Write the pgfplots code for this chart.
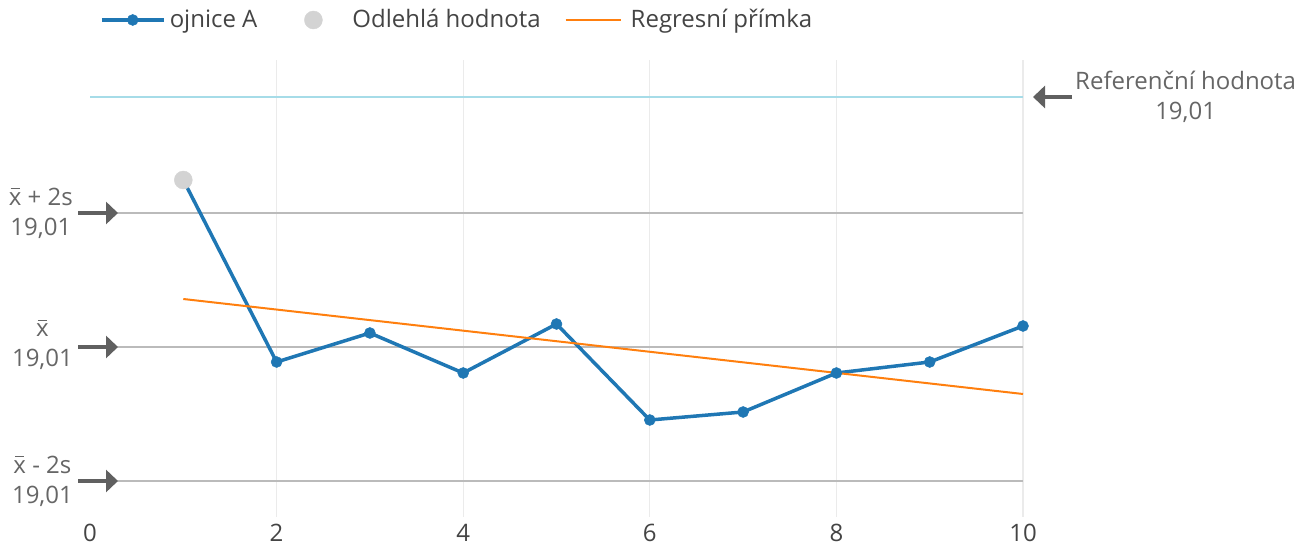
\documentclass[border=0pt]{standalone}
\usepackage{pgfplots}
\pgfplotsset{compat=1.18}
\usetikzlibrary{arrows.meta}
\usepackage{fontspec}
\setmainfont{Open Sans}
\definecolor{cblue}{HTML}{1F77B4}
\definecolor{corange}{HTML}{FF7F0E}
\definecolor{outgray}{HTML}{D3D3D3}
\definecolor{limgray}{HTML}{BBBBBB}
\definecolor{refblue}{HTML}{A6DCE8}
\definecolor{gridgray}{HTML}{EBEBEB}
\definecolor{labelgray}{HTML}{666666}
\definecolor{textgray}{HTML}{444444}
\definecolor{arrowgray}{HTML}{606060}
\newcommand\xbar{\ooalign{x\cr\hidewidth\rule[0.66em]{0.38em}{0.055em}\hidewidth\cr}}
\pgfplotsset{
  bluelegend/.style={legend image code/.code={\path[draw=none,fill=none] (0pt,-8pt) rectangle (68pt,8pt);\draw[##1, mark repeat=2, mark phase=2] plot coordinates {(0pt,0pt) (31pt,0pt) (62pt,0pt)};}},
  dotlegend/.style={legend image code/.code={\path[draw=none,fill=none] (0pt,-8pt) rectangle (95pt,8pt);\draw[##1] plot coordinates {(56pt,0pt)};}},
  linelegend/.style={legend image code/.code={\path[draw=none,fill=none] (0pt,-8pt) rectangle (90pt,8pt);\draw[##1] (25pt,0pt) -- (80pt,0pt);}},
}
\begin{document}
\fontsize{24}{30}\selectfont
\begin{tikzpicture}
\path[use as bounding box] (-90pt,-29pt) rectangle (1208pt,517pt);
\begin{axis}[
  at={(0pt,0pt)}, anchor=south west, scale only axis,
  width=933pt, height=457pt,
  xmin=0, xmax=10, ymin=-170, ymax=287,
  xtick={2,4,6,8,10}, extra x ticks={0}, extra x tick style={grid=none},
  xmajorgrids, grid style={draw=gridgray, line width=1.2pt},
  ytick=\empty,
  axis line style={draw=none}, major tick length=0pt,
  tick label style={font=\fontsize{24}{30}\selectfont, text=textgray},
  /pgf/number format/assume math mode=true,
  xticklabel style={yshift=-5pt, inner sep=2pt},
  clip=false,
  legend style={at={(10pt,497pt)}, anchor=west, draw=none, fill=none,
    font=\fontsize{24}{30}\selectfont, text=textgray,
    column sep=0pt, inner sep=0pt, outer sep=0pt, nodes={inner sep=0pt, outer sep=0pt}},
  legend columns=-1,
  legend cell align=left,
]
\addplot[refblue, line width=1.5pt, forget plot] coordinates {(0,250) (10,250)};
\addplot[limgray, line width=1.5pt, forget plot] coordinates {(0,134) (10,134)};
\addplot[limgray, line width=1.5pt, forget plot] coordinates {(0,0) (10,0)};
\addplot[limgray, line width=1.5pt, forget plot] coordinates {(0,-134) (10,-134)};

\addplot[cblue, line width=3.5pt, mark=*, mark size=5.5pt, mark options={line width=0.5pt}, bluelegend]
  coordinates {(1,167) (2,-15) (3,14) (4,-26) (5,23) (6,-73) (7,-65) (8,-26) (9,-15) (10,21)};
\addlegendentry{ojnice A}

\addplot[only marks, mark=*, mark size=9pt, draw=outgray, fill=outgray, dotlegend]
  coordinates {(1,167)};
\addlegendentry{Odlehlá hodnota}

\addplot[corange, line width=2pt, linelegend]
  coordinates {(1,48) (10,-47)};
\addlegendentry{Regresní přímka}
\end{axis}

\begin{scope}[arrowgray, line width=4pt, -{Triangle[length=12pt,width=22pt]}]
  \draw (-12pt,304pt) -- (28pt,304pt);
  \draw (-12pt,170pt) -- (28pt,170pt);
  \draw (-12pt,36pt) -- (28pt,36pt);
  \draw (982pt,420pt) -- (943pt,420pt);
\end{scope}
\begin{scope}[every node/.style={font=\fontsize{24}{30}\selectfont, text=labelgray, align=center, inner sep=0pt}]
  \node[anchor=east] at (-17pt,304pt) {\xbar\ + 2s\\19,01};
  \node[anchor=east] at (-17pt,170pt) {\xbar\\19,01};
  \node[anchor=east] at (-17pt,36pt) {\xbar\ - 2s\\19,01};
  \node[anchor=west] at (985pt,420pt) {Referenční hodnota\\19,01};
\end{scope}
\end{tikzpicture}
\end{document}
